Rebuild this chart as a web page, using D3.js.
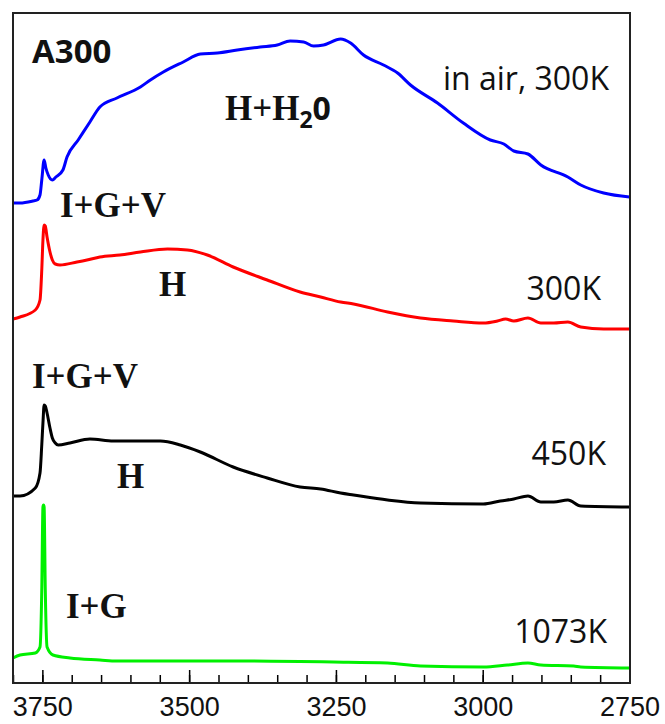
<!DOCTYPE html>
<html>
<head>
<meta charset="utf-8">
<script src="https://cdn.jsdelivr.net/npm/d3@7"></script>
<style>
  body { margin: 0; background: #fff; }
  svg { display: block; }
  .lbl { font-family: "Open Sans", sans-serif; fill: #111; }
  .phase { font-family: "Liberation Serif", "Times New Roman", serif; font-weight: bold; fill: #111; }
  .tick text { font-family: "Liberation Sans", Arial, sans-serif; }
</style>
</head>
<body>
<svg width="665" height="724"></svg>
<script>
// wavenumber (cm-1) and intensity (a.u., offset per trace)
const inAir300K = [
  [3800, 48.0], [3788, 48.0], [3766, 48.2], [3759, 48.3], [3754, 48.8], [3751, 50.3],
  [3747, 52.3], [3744, 51.5], [3740, 50.8], [3733, 50.3], [3727, 50.6], [3715, 51.3],
  [3708, 52.6], [3689, 54.3], [3669, 56.1], [3652, 57.6], [3623, 58.5], [3583, 59.6],
  [3566, 60.3], [3544, 61.1], [3510, 62.1], [3481, 62.9], [3452, 63.0], [3418, 63.3],
  [3379, 63.6], [3350, 63.8], [3328, 64.2], [3305, 64.1], [3288, 63.7], [3271, 63.8],
  [3242, 64.4], [3225, 64.0], [3203, 62.8], [3169, 61.8], [3145, 61.0], [3123, 59.8],
  [3077, 58.0], [3033, 56.0], [2987, 54.3], [2964, 53.9], [2947, 53.2], [2923, 52.9],
  [2901, 51.8], [2855, 50.6], [2833, 49.8], [2794, 49.0], [2750, 48.6]
];
const vac300K = [
  [3800, 36.4], [3788, 36.6], [3762, 37.3], [3754, 38.3], [3751, 41.3], [3749, 44.3],
  [3747, 45.8], [3745, 45.7], [3742, 44.6], [3737, 43.1], [3733, 42.3], [3728, 41.9],
  [3720, 41.8], [3691, 42.1], [3674, 42.3], [3652, 42.6], [3618, 42.8], [3583, 43.1],
  [3537, 43.4], [3503, 43.3], [3469, 42.8], [3425, 41.6], [3367, 40.3], [3311, 39.1],
  [3276, 38.6], [3242, 38.1], [3220, 37.9], [3162, 37.1], [3106, 36.5], [3050, 36.2],
  [2999, 36.0], [2975, 36.2], [2961, 36.4], [2947, 36.2], [2923, 36.5], [2901, 36.0],
  [2879, 36.0], [2855, 36.1], [2833, 35.6], [2794, 35.4], [2750, 35.4]
];
const vac450K = [
  [3800, 18.7], [3788, 18.7], [3762, 19.5], [3754, 21.0], [3751, 23.8], [3749, 26.0],
  [3747, 27.8], [3745, 27.7], [3742, 27.0], [3737, 25.5], [3733, 24.5], [3728, 24.0],
  [3723, 23.8], [3703, 24.0], [3669, 24.4], [3629, 24.2], [3595, 24.2], [3549, 24.2],
  [3515, 23.8], [3481, 23.1], [3425, 21.6], [3367, 20.5], [3311, 19.6], [3276, 19.4],
  [3242, 19.0], [3220, 18.8], [3162, 18.3], [3106, 18.0], [2999, 17.9], [2970, 18.2],
  [2947, 18.4], [2923, 18.7], [2901, 18.1], [2879, 18.1], [2855, 18.3], [2833, 17.7],
  [2750, 17.6]
];
const vac1073K = [
  [3800, 2.5], [3788, 2.8], [3762, 3.0], [3754, 3.6], [3751, 9.3], [3749, 17.6],
  [3748, 17.8], [3747, 17.6], [3745, 9.3], [3742, 3.6], [3732, 2.8], [3703, 2.5],
  [3652, 2.3], [3623, 2.2], [3537, 2.2], [3425, 2.2], [3254, 2.1], [3162, 2.0],
  [3106, 1.7], [2999, 1.6], [2958, 1.8], [2923, 2.0], [2901, 1.8], [2845, 1.7],
  [2833, 1.6], [2750, 1.5]
];
const majorTicks = [3750, 3500, 3250, 3000, 2750];
const minorTicks = d3.range(3800, 2749, -50);

const series = [
  { values: inAir300K, color: "#0000ff" },
  { values: vac300K,   color: "#ff0000" },
  { values: vac450K,   color: "#000000" },
  { values: vac1073K,  color: "#00f000" }
];

const mLeft = 13, mTop = 13, mRight = 630, mBottom = 683;
const svg = d3.select("svg");

const x = d3.scaleLinear().domain([3800, 2750]).range([mLeft, mRight - 0.5]);
const y = d3.scaleLinear().domain([0, 67]).range([mBottom, mTop]);

const line = d3.line()
  .x(d => x(d[0]))
  .y(d => y(d[1]))
  .curve(d3.curveMonotoneX);

svg.append("g").selectAll("path")
  .data(series)
  .join("path")
  .attr("d", d => line(d.values))
  .attr("fill", "none")
  .attr("stroke", d => d.color)
  .attr("stroke-width", 3)
  .attr("stroke-linejoin", "round");

// axis: inward ticks
svg.append("g")
  .attr("transform", `translate(0,${mBottom})`)
  .call(d3.axisBottom(x).tickValues(minorTicks).tickSize(-8).tickFormat(""))
  .call(g => g.select(".domain").remove())
  .selectAll("line").attr("stroke-width", 1.5);

svg.append("g")
  .attr("transform", `translate(0,${mBottom})`)
  .call(d3.axisBottom(x).tickValues(majorTicks).tickSize(-13).tickPadding(14).tickFormat(d3.format("d")))
  .call(g => g.select(".domain").remove())
  .call(g => g.selectAll("line").attr("stroke-width", 1.5))
  .call(g => g.selectAll("text").attr("font-size", 27).attr("fill", "#111"));

svg.append("rect")
  .attr("x", mLeft).attr("y", mTop)
  .attr("width", mRight - mLeft).attr("height", mBottom - mTop)
  .attr("fill", "none").attr("stroke", "#222").attr("stroke-width", 2);

// temperature / condition labels
const label = (txt, px, py, bold) => svg.append("text")
  .attr("class", "lbl").attr("x", px).attr("y", py)
  .attr("font-size", bold ? 33 : 32).attr("font-weight", bold ? "bold" : "normal")
  .text(txt);
label("A300", 32, 63, true);
label("in air, 300K", 609, 90).attr("text-anchor", "end");
label("300K", 601, 300).attr("text-anchor", "end");
label("450K", 606, 465).attr("text-anchor", "end");
label("1073K", 607, 643).attr("text-anchor", "end");

// phase labels
const phase = (txt, px, py) => svg.append("text")
  .attr("class", "phase").attr("x", px).attr("y", py)
  .attr("font-size", 35).text(txt);
const h2o = phase("H+H", 225, 120);
h2o.append("tspan").attr("font-family", "'Open Sans', sans-serif").attr("font-size", 23).attr("dy", 8).text("2");
h2o.append("tspan").attr("font-family", "'Open Sans', sans-serif").attr("font-size", 32).attr("dy", -8).text("0");
phase("I+G+V", 60, 217);
phase("H", 159, 296);
phase("I+G+V", 32, 388);
phase("H", 117, 488);
phase("I+G", 66, 618);
</script>
</body>
</html>
